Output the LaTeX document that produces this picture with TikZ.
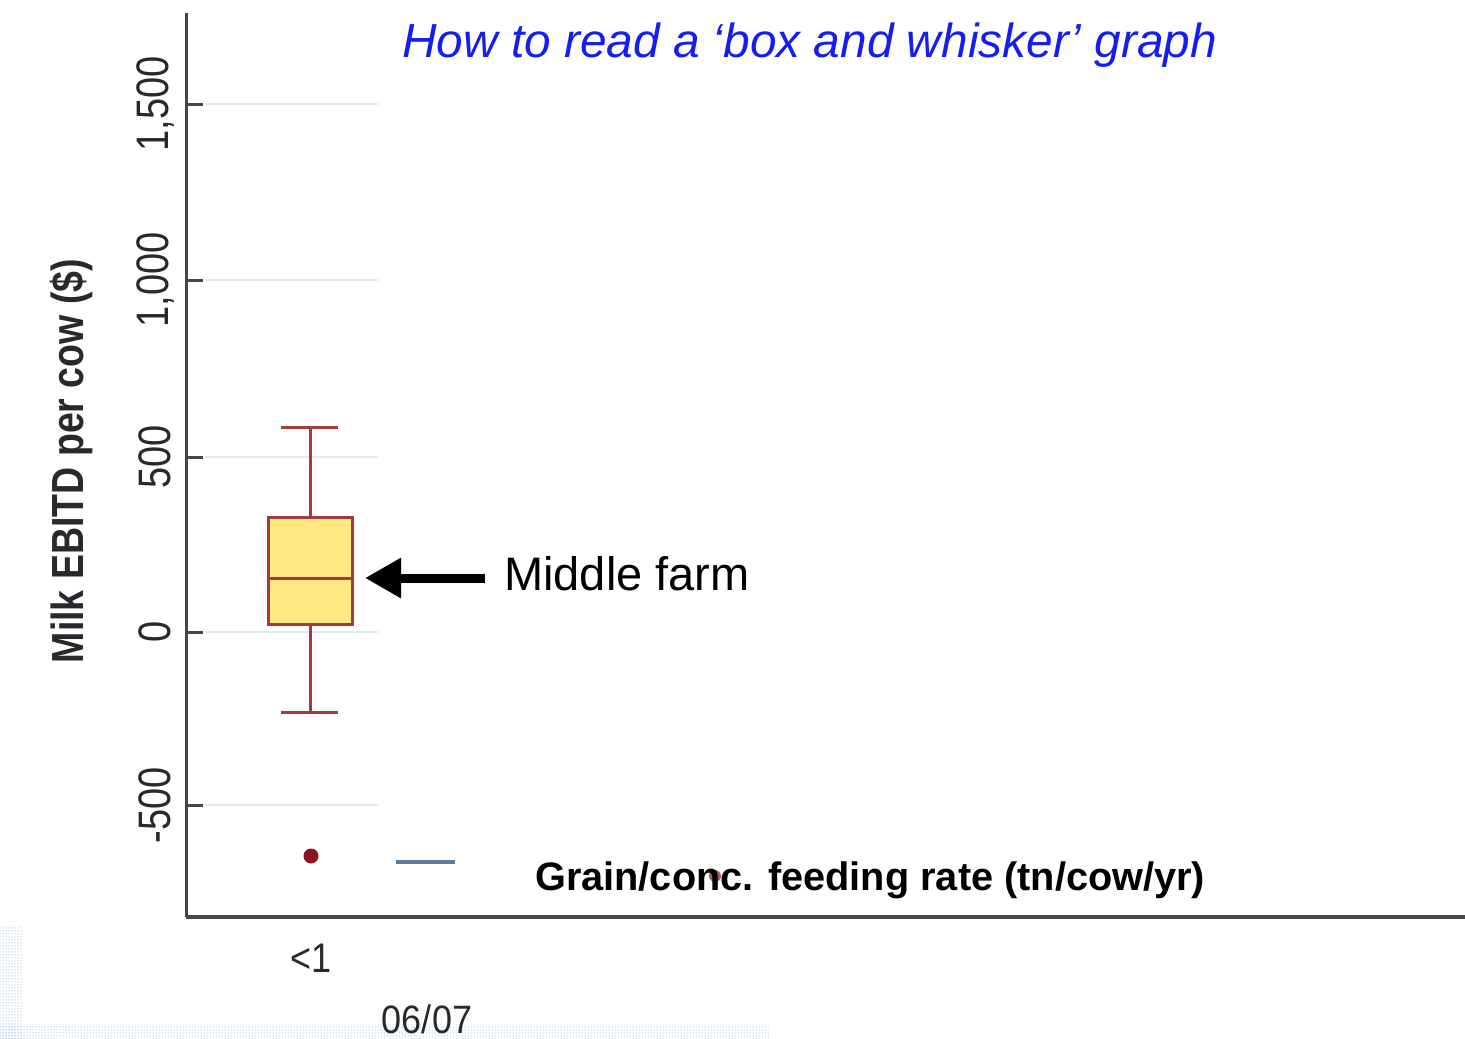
\documentclass[tikz,border=0pt]{standalone}
\usepackage{fontspec}
\usepackage{graphicx}
\setmainfont{Liberation Sans}
\usetikzlibrary{arrows.meta,patterns}
\definecolor{titleblue}{RGB}{20,30,240}
\definecolor{axisgray}{RGB}{70,70,70}
\definecolor{labgray}{RGB}{40,40,45}
\definecolor{gridcol}{RGB}{225,236,242}
\definecolor{boxred}{RGB}{165,60,60}
\definecolor{boxyellow}{RGB}{255,232,130}
\definecolor{dotred}{RGB}{140,20,30}
\definecolor{steel}{RGB}{90,125,160}
\definecolor{speck}{RGB}{90,160,220}
\tikzset{
  axisline/.style={draw=axisgray},
  gridline/.style={draw=gridcol, line width=2pt},
  ticklab/.style={rotate=90, text=labgray, inner sep=0pt, font=\fontsize{38}{40}\selectfont},
  whisk/.style={draw=boxred, line width=3pt},
}
\begin{document}
\begin{tikzpicture}[x=1pt,y=-1pt]
\useasboundingbox (0,0) rectangle (1465,1039);
% decorative speckle at the bottom
\fill[pattern=dots, pattern color=speck] (0,1024) rectangle (770,1039);
\fill[pattern=dots, pattern color=speck] (0,925) rectangle (22,1039);
% grid lines
\foreach \yy in {104,280,457,632,805} {
  \draw[gridline] (205,\yy) -- (378,\yy);
  \draw[axisgray, line width=3pt] (186,\yy) -- (203,\yy);
}
% axes
\coordinate (ytop) at (186,13);
\coordinate (origin) at (186,917);
\coordinate (xend) at (1465,917);
\draw[axisgray, line width=3pt] (ytop) -- (origin);
\draw[axisgray, line width=4pt] (origin) -- (xend);
% tick labels
\node[ticklab] (t1500) at (155,104) {\scalebox{1}[1.2]{1,500}};
\node[ticklab] (t1000) at (155,280) {\scalebox{1}[1.2]{1,000}};
\node[ticklab] (t500) at (155,457) {\scalebox{1}[1.2]{500}};
\node[ticklab] (t0) at (155,632) {\scalebox{1}[1.2]{0}};
\node[ticklab] (tm500) at (155,805) {\scalebox{1}[1.2]{-500}};
% y label
\node[rotate=90, text=labgray, inner sep=0pt, font=\fontsize{37.5}{40}\selectfont\bfseries] (ylab) at (71,461) {\scalebox{1}[1.2]{Milk EBITD per cow (\$)}};
% box plot
\node[draw=boxred, fill=boxyellow, line width=3pt, minimum width=84pt, minimum height=107pt, inner sep=0pt] (box) at (310,570.5) {};
\coordinate (medL) at (268,578);
\coordinate (medR) at (352,578);
\draw[whisk] (medL) -- (medR);
\coordinate (wtop) at (310,427);
\coordinate (wbot) at (310,712);
\draw[whisk] (box.north) -- (wtop);
\draw[whisk] (box.south) -- (wbot);
\coordinate (capTL) at (281,427); \coordinate (capTR) at (338,427);
\coordinate (capBL) at (281,712); \coordinate (capBR) at (338,712);
\draw[whisk] (capTL) -- (capTR);
\draw[whisk] (capBL) -- (capBR);
% outliers and marks
\node[fill=dotred, circle, inner sep=0pt, minimum size=15pt] (out1) at (311,856) {};
\node[fill=dotred!70, circle, inner sep=0pt, minimum size=12pt] (out2) at (715,876) {};
\coordinate (bl1) at (396,862); \coordinate (bl2) at (455,862);
\draw[steel, line width=3.5pt] (bl1) -- (bl2);
% title
\node[anchor=west, inner sep=0pt, text=titleblue, font=\fontsize{47.8}{50}\selectfont\itshape] (title) at (402,45) {How to read a ‘box and whisker’ graph};
% middle farm label and arrow
\node[anchor=west, inner sep=0pt, font=\fontsize{47}{50}\selectfont] (mid) at (504,574) {Middle farm};
\draw[line width=9pt, -{Triangle[length=36pt,width=38pt]}, shorten <=19pt, shorten >=13pt] (mid.west |- medR) -- (medR);
% axis title
\node[anchor=west, inner sep=0pt, font=\fontsize{39.7}{42}\selectfont\bfseries] (xlab) at (535,880) {Grain/conc. feeding rate (tn/cow/yr)};
% category labels
\node[inner sep=0pt, text=labgray, font=\fontsize{36}{38}\selectfont] (cat) at (311,958) {\scalebox{1}[1.15]{<1}};
\node[inner sep=0pt, text=labgray, font=\fontsize{36}{38}\selectfont] (yr) at (427,1019) {\scalebox{1}[1.1]{06/07}};
\end{tikzpicture}
\end{document}
